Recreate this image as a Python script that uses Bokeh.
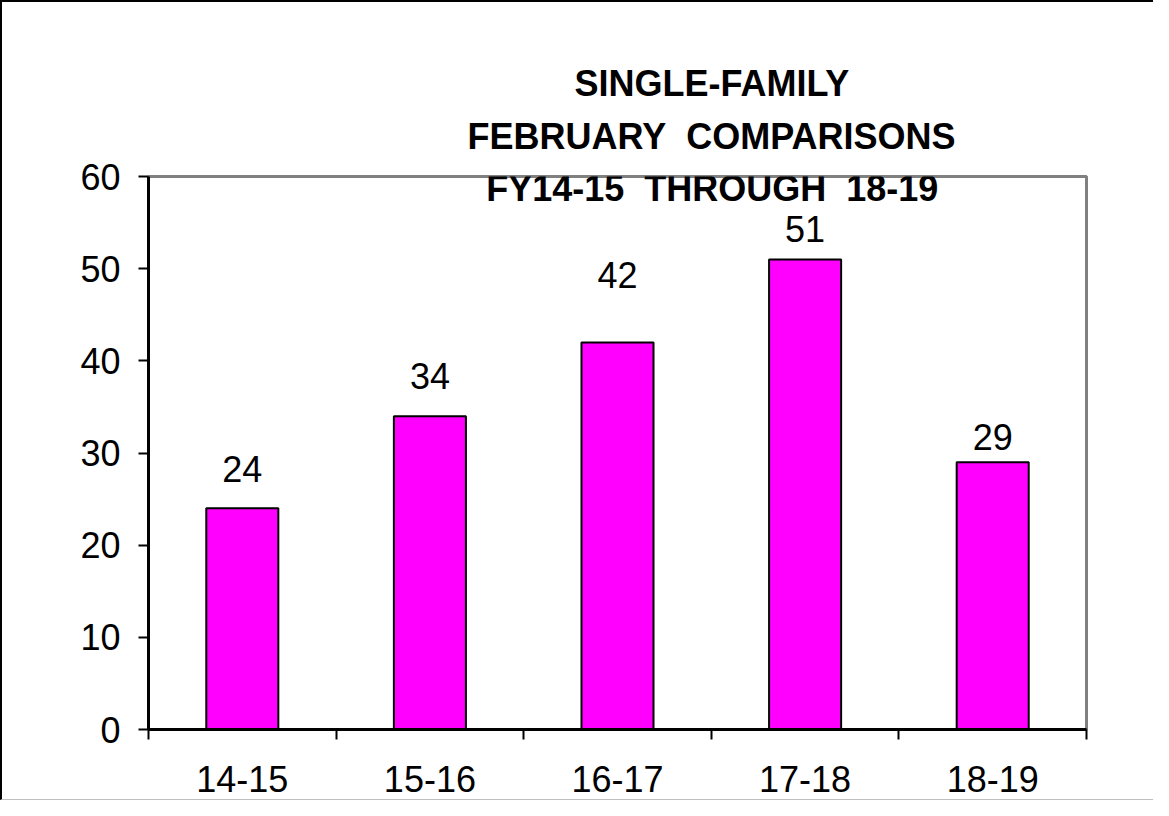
from bokeh.plotting import figure
from bokeh.models import Range1d, FixedTicker, Label, Title, ColumnDataSource
from bokeh.core.properties import value
from bokeh.embed import file_html
from bokeh.resources import INLINE

categories = ["14-15", "15-16", "16-17", "17-18", "18-19"]
counts = [24, 34, 42, 51, 29]
y_ticks = [0, 10, 20, 30, 40, 50, 60]
title_lines = ["SINGLE-FAMILY", "FEBRUARY\u00a0 COMPARISONS", "FY14-15\u00a0 THROUGH\u00a0 18-19"]

# style: pixel gap between each value label and its bar top (as in the original)
label_gap_px = [25, 26, 53, 16, 11]

FONT = "Liberation Sans"

xpos = [i + 0.5 for i in range(len(categories))]
bounds = [float(i) for i in range(len(categories) + 1)]
src = ColumnDataSource(dict(x=xpos, top=counts, label=[str(c) for c in counts],
                            yoff=[-(g + 14) for g in label_gap_px]))

p = figure(frame_width=938, frame_height=553,
           x_range=Range1d(0, len(categories)), y_range=Range1d(0, 60),
           output_backend="svg", toolbar_location=None,
           min_border_left=146, min_border_top=174,
           min_border_right=67, min_border_bottom=70,
           background_fill_color="white", border_fill_color="white",
           styles={"border-left": "2px solid black", "border-top": "2px solid black",
                   "border-bottom": "1px solid #c0c0c0"})

p.vbar(x="x", top="top", bottom=0, width=0.384, source=src,
       fill_color="#FF00FF", line_color="black", line_width=2)

p.text(x="x", y="top", text="label", source=src, y_offset="yoff",
       text_align="center", text_baseline="alphabetic",
       text_font=value(FONT), text_font_size="36px", text_color="black")

# title: first two lines above the frame, third line overlapping the frame top
def style_title(t):
    t.text_font = FONT
    t.text_font_size = "36px"
    t.text_font_style = "bold"
    t.text_color = "black"
    t.align = "left"

# outer title line (farther from the frame)
p.title.text = title_lines[0]
style_title(p.title)
p.title.offset = 426
p.title.standoff = -19

# inner title line (next to the frame)
t2 = Title(text=title_lines[1])
style_title(t2)
t2.offset = 319
t2.standoff = 39
p.add_layout(t2, "above")

p.add_layout(Label(x=3.005, y=58.75, text=title_lines[2], text_align="center",
                   text_baseline="alphabetic", text_font=FONT,
                   text_font_size="36px", text_font_style="bold",
                   text_color="black"))

p.xgrid.visible = False
p.ygrid.visible = False
p.outline_line_color = "#808080"
p.outline_line_width = 3

xa = p.xaxis[0]
xa.ticker = FixedTicker(ticks=xpos, minor_ticks=bounds)
xa.major_label_overrides = {x: c for x, c in zip(xpos, categories)}
xa.major_tick_line_color = None
xa.minor_tick_line_color = "black"
xa.minor_tick_line_width = 2
xa.minor_tick_out = 10
xa.minor_tick_in = 0
xa.axis_line_color = "black"
xa.axis_line_width = 3
xa.major_label_standoff = 26
xa.major_label_text_font = FONT
xa.major_label_text_font_size = "36px"
xa.major_label_text_color = "black"

ya = p.yaxis[0]
ya.ticker = FixedTicker(ticks=y_ticks, minor_ticks=[])
ya.major_tick_line_color = "black"
ya.major_tick_line_width = 2
ya.major_tick_out = 10
ya.major_tick_in = 0
ya.minor_tick_line_color = None
ya.axis_line_color = "black"
ya.axis_line_width = 3
ya.major_label_standoff = 18
ya.major_label_text_font = FONT
ya.major_label_text_font_size = "36px"
ya.major_label_text_color = "black"

open("out.html", "w").write(file_html(p, INLINE))
